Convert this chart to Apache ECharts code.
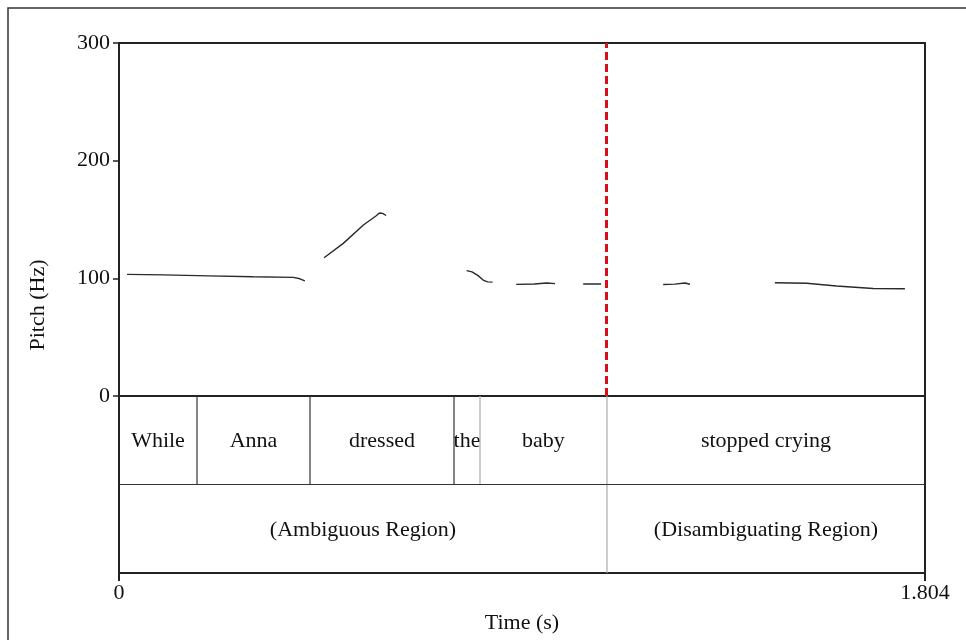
<!DOCTYPE html>
<html>
<head>
<meta charset="utf-8">
<script src="https://cdn.jsdelivr.net/npm/echarts@6/dist/echarts.min.js"></script>
<style>
  html, body { margin: 0; padding: 0; background: #fff; }
  #chart { width: 966px; height: 640px; }
</style>
</head>
<body>
<div id="chart"></div>
<script>
// ---- Data ----
const timeMax = 1.804;
const pitchTicks = [0, 100, 200, 300];
const timeTickLabels = ['0', '1.804'];

// pitch contour segments: [time (s), pitch (Hz)]
const seg1 = [[0.018, 103.4], [0.10, 102.9], [0.20, 102.1], [0.30, 101.3], [0.39, 100.8], [0.405, 99.6], [0.416, 97.8]];
const seg2 = [[0.459, 117.5], [0.502, 129.7], [0.547, 145.3], [0.575, 153.0], [0.583, 155.5], [0.590, 155.2], [0.598, 153.4]];
const seg3 = [[0.778, 106.5], [0.790, 105.5], [0.803, 102.5], [0.815, 98.5], [0.825, 97.0], [0.836, 96.8]];
const seg4 = [[0.889, 94.9], [0.930, 95.2], [0.957, 96.0], [0.976, 95.5]];
const seg5 = [[1.039, 95.2], [1.079, 95.2]];
const seg6 = [[1.218, 94.8], [1.244, 95.1], [1.267, 96.0], [1.278, 95.0]];
const seg7 = [[1.468, 96.3], [1.539, 95.8], [1.606, 93.5], [1.688, 91.3], [1.759, 91.2]];
const pitchSegments = [seg1, seg2, seg3, seg4, seg5, seg6, seg7];

// word tier: label, start, end
const words = ['While', 'Anna', 'dressed', 'the', 'baby', 'stopped crying'];
const wordStarts = [0, 0.1746, 0.4275, 0.7498, 0.808, 1.0922];
const wordEnds = [0.1746, 0.4275, 0.7498, 0.808, 1.0922, 1.804];

// region tier
const regions = ['(Ambiguous Region)', '(Disambiguating Region)'];
const regionStarts = [0, 1.0922];
const regionEnds = [1.0922, 1.804];

const disambiguationOnset = 1.0922;

// ---- style helpers ----
const lightLeftBoundary = { 'baby': true, 'stopped crying': true, '(Disambiguating Region)': true };
const FONT = 'Liberation Serif';

const chart = echarts.init(document.getElementById('chart'));

function tierRender(rowLow, labels) {
  return function (params, api) {
    const s = api.value(0), e = api.value(1);
    const lbl = labels[params.dataIndex];
    const p0 = api.coord([s, rowLow + 1]);
    const p1 = api.coord([e, rowLow]);
    const children = [{
      type: 'text',
      style: {
        text: lbl, x: (p0[0] + p1[0]) / 2, y: (p0[1] + p1[1]) / 2 + 1,
        align: 'center', verticalAlign: 'middle',
        font: '22px "' + FONT + '"', fill: '#111'
      }
    }];
    if (s > 0) {
      children.push({
        type: 'line',
        shape: { x1: p0[0], y1: p0[1], x2: p0[0], y2: p1[1] },
        style: { stroke: lightLeftBoundary[lbl] ? '#aaaaaa' : '#333', lineWidth: 1.2 }
      });
    }
    return { type: 'group', children: children };
  };
}

const lineSeries = pitchSegments.map(seg => ({
  type: 'line', xAxisIndex: 0, yAxisIndex: 0,
  data: seg, showSymbol: false, symbol: 'none', smooth: false,
  lineStyle: { color: '#2a2a2a', width: 1.4 }, silent: true, animation: false, z: 3
}));

lineSeries[0].markLine = {
  silent: true, symbol: 'none', animation: false,
  label: { show: false },
  lineStyle: { color: '#d4111b', width: 3, type: [8, 4] },
  data: [{ xAxis: disambiguationOnset }]
};

const option = {
  animation: false,
  backgroundColor: '#fff',
  grid: [
    { left: 119, right: 41, top: 43, height: 353, show: true, borderColor: '#222', borderWidth: 2, backgroundColor: 'transparent' },
    { left: 119, right: 41, top: 396, height: 177, show: true, borderColor: '#222', borderWidth: 2, backgroundColor: 'transparent' }
  ],
  xAxis: [
    { gridIndex: 0, type: 'value', min: 0, max: timeMax, show: false },
    {
      gridIndex: 1, type: 'value', min: 0, max: timeMax, interval: timeMax,
      axisLine: { show: true, lineStyle: { color: '#222', width: 2 } },
      axisTick: { show: true, inside: false, length: 8, lineStyle: { color: '#222', width: 2 } },
      splitLine: { show: false },
      axisLabel: {
        show: true, margin: 9, fontFamily: FONT, fontSize: 22, color: '#111',
        showMinLabel: true, showMaxLabel: true,
        formatter: function (v) { return Math.abs(v) < 1e-9 ? timeTickLabels[0] : (Math.abs(v - timeMax) < 1e-9 ? timeTickLabels[1] : ''); }
      },
      name: 'Time (s)', nameLocation: 'middle', nameGap: 39,
      nameTextStyle: { fontFamily: FONT, fontSize: 22, color: '#111' }
    }
  ],
  yAxis: [
    {
      gridIndex: 0, type: 'value', min: pitchTicks[0], max: pitchTicks[pitchTicks.length - 1], interval: 100,
      axisLine: { show: true, lineStyle: { color: '#222', width: 2 } },
      axisTick: { show: true, inside: false, length: 6, lineStyle: { color: '#222', width: 1.5 } },
      splitLine: { show: false },
      axisLabel: { margin: 9, fontFamily: FONT, fontSize: 22, color: '#111' }
    },
    { gridIndex: 1, type: 'value', min: 0, max: 2, show: false }
  ],
  graphic: [
    { type: 'rect', shape: { x: 8, y: 8, width: 1200, height: 900 }, style: { fill: 'none', stroke: '#333', lineWidth: 1.5 }, z: -10, silent: true },
    {
      type: 'text', x: 38, y: 305, rotation: Math.PI / 2,
      style: { text: 'Pitch (Hz)', font: '22px "' + FONT + '"', fill: '#111', align: 'center', verticalAlign: 'middle' }
    }
  ],
  series: lineSeries.concat([
    {
      type: 'custom', xAxisIndex: 1, yAxisIndex: 1, silent: true, animation: false,
      renderItem: tierRender(1, words),
      data: words.map((w, i) => [wordStarts[i], wordEnds[i]])
    },
    {
      type: 'custom', xAxisIndex: 1, yAxisIndex: 1, silent: true, animation: false,
      renderItem: tierRender(0, regions),
      data: regions.map((r, i) => [regionStarts[i], regionEnds[i]])
    },
    {
      type: 'line', xAxisIndex: 1, yAxisIndex: 1, data: [], silent: true,
      markLine: {
        silent: true, symbol: 'none', animation: false, label: { show: false },
        lineStyle: { color: '#333', width: 1.2, type: 'solid' },
        data: [{ yAxis: 1 }]
      }
    }
  ])
};
chart.setOption(option);
</script>
</body>
</html>
